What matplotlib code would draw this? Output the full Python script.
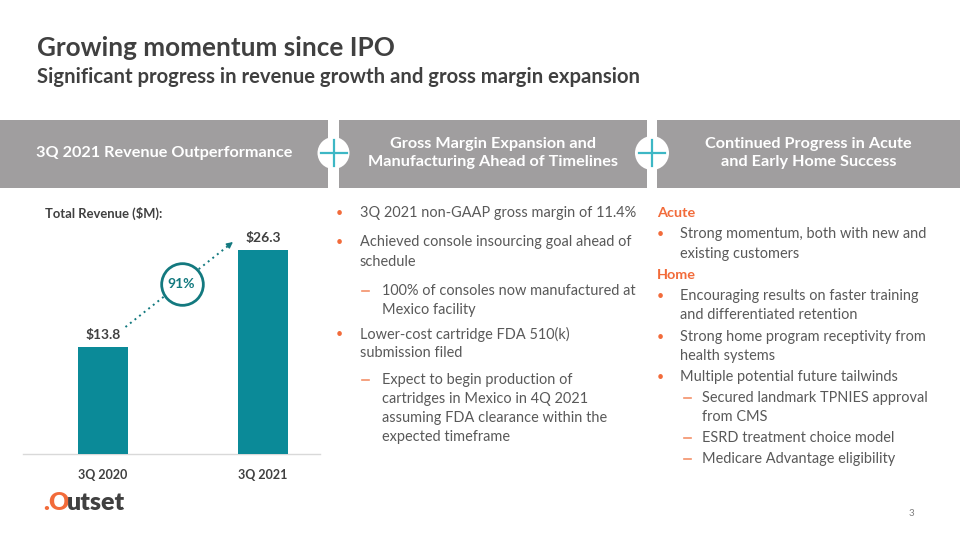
import matplotlib
matplotlib.use("Agg")
import matplotlib.pyplot as plt
from matplotlib.patches import Rectangle, Circle

plt.rcParams['font.family'] = ['Lato', 'DejaVu Sans']

# data
quarters = ['3Q 2020', '3Q 2021']
revenue = [13.8, 26.3]
growth_label = '91%'

headers = ['3Q 2021 Revenue Outperformance',
           'Gross Margin Expansion and\nManufacturing Ahead of Timelines',
           'Continued Progress in Acute\nand Early Home Success']

# (kind, text, y) kind: b = bullet, d = dash, c = continuation of bullet, s = continuation of dash
middle_lines = [
    ('b', '3Q 2021 non-GAAP gross margin of 11.4%', 213),
    ('b', 'Achieved console insourcing goal ahead of', 242),
    ('c', 'schedule', 262),
    ('d', '100% of consoles now manufactured at', 291),
    ('s', 'Mexico facility', 310),
    ('b', 'Lower-cost cartridge FDA 510(k)', 334),
    ('c', 'submission filed', 353),
    ('d', 'Expect to begin production of', 380),
    ('s', 'cartridges in Mexico in 4Q 2021', 399),
    ('s', 'assuming FDA clearance within the', 418),
    ('s', 'expected timeframe', 437),
]
right_lines = [
    ('h', 'Acute', 213),
    ('b', 'Strong momentum, both with new and', 234),
    ('c', 'existing customers', 254),
    ('h', 'Home', 275),
    ('b', 'Encouraging results on faster training', 296),
    ('c', 'and differentiated retention', 315),
    ('b', 'Strong home program receptivity from', 337),
    ('c', 'health systems', 356),
    ('b', 'Multiple potential future tailwinds', 377),
    ('d', 'Secured landmark TPNIES approval', 398),
    ('s', 'from CMS', 417),
    ('d', 'ESRD treatment choice model', 438),
    ('d', 'Medicare Advantage eligibility', 459),
]

TEAL = '#0B8A98'
TEAL_DARK = '#13797F'
ORANGE = '#F26B3A'
GRAY_BOX = '#A09E9F'
TXT = '#404040'
BODY = '#595959'
PLUS = '#3DB7C5'

fig = plt.figure(figsize=(9.6, 5.4), dpi=100)
ax = fig.add_axes([0, 0, 1, 1])
ax.set_xlim(0, 960)
ax.set_ylim(540, 0)
ax.axis('off')

# titles
ax.text(37, 48, 'Growing momentum since IPO', fontsize=18.8, fontweight='bold',
        color=TXT, va='center')
ax.text(37, 77, 'Significant progress in revenue growth and gross margin expansion',
        fontsize=14.6, fontweight='bold', color=TXT, va='center')

# header boxes
boxes = [(0, 328), (339, 647), (657, 960)]
for (x0, x1), lab in zip(boxes, headers):
    ax.add_patch(Rectangle((x0, 120), x1 - x0, 68, color=GRAY_BOX, lw=0))
    ax.text((x0 + x1) / 2, 153, lab, color='white', fontsize=11.7, fontweight='bold',
            ha='center', va='center', linespacing=1.3)

for cx, r in [(333.5, 16), (652, 17)]:
    ax.add_patch(Circle((cx, 153), r, color='white', lw=0, zorder=3))
    ax.plot([cx - 13, cx + 13], [153, 153], color=PLUS, lw=1.6, zorder=4)
    ax.plot([cx, cx], [140, 166], color=PLUS, lw=1.6, zorder=4)


def draw_lines(lines, xb, xt, xd, xs):
    for kind, txt, y in lines:
        if kind == 'h':
            ax.text(xb, y, txt, color=ORANGE, fontsize=10.4, fontweight='bold', va='center')
            continue
        if kind == 'b':
            ax.text(xb, y, '\u2022', color=ORANGE, fontsize=9, va='center')
        if kind == 'd':
            ax.plot([xd, xd + 7], [y, y], color='#F4916A', lw=1.2)
        x = xt if kind in ('b', 'c') else xs
        ax.text(x, y, txt, color=BODY, fontsize=10.45, va='center')


draw_lines(middle_lines, 336, 360, 362, 382)
draw_lines(right_lines, 657, 680, 684, 702)

# total revenue label
ax.text(45, 213, 'Total Revenue ($M):', fontsize=9.4, fontweight='bold', color=TXT, va='center')

# baseline
ax.plot([23, 320], [454, 454], color='#D9D9D9', lw=1)

# page number
ax.text(911, 513, '3', fontsize=7, color='#7F7F7F', ha='center', va='center')

# logo
fig.canvas.draw()
rend = fig.canvas.get_renderer()
x = 43
for piece, col in [('.', ORANGE), ('O', ORANGE), ('utset', '#404040')]:
    t = ax.text(x, 503, piece, fontsize=18, fontweight='heavy', color=col, va='center')
    bb = t.get_window_extent(renderer=rend)
    x += bb.width * 960 / fig.bbox.width - 1

# bar chart
cax = fig.add_axes([23 / 960, (540 - 454) / 540, 297 / 960, (454 - 200) / 540])
cax.patch.set_alpha(0)
pos = list(range(len(quarters)))
cax.bar(pos, revenue, width=0.3125, color=TEAL)
cax.set_xlim(-0.5, 1.355)
cax.set_ylim(0, 32.8)
for p, v in zip(pos, revenue):
    cax.text(p, v + 1.55, f'${v}', ha='center', va='center', fontsize=10,
             fontweight='bold', color=TXT)
for s in cax.spines.values():
    s.set_visible(False)
cax.set_yticks([])
cax.set_xticks(pos)
cax.set_xticklabels(quarters, fontsize=9, fontweight='bold', color=TXT)
cax.tick_params(axis='x', length=0, pad=11)

# growth arrow
x0, y0 = 0.14, 16.4
x1, y1 = 0.825, 27.6
cax.plot([x0, x1 - 0.03], [y0, y1 - 0.5], color=TEAL_DARK, lw=1.4, ls=(0, (1, 2)))
cax.annotate('', xy=(x1, y1), xytext=(x1 - 0.04, y1 - 0.65),
             arrowprops=dict(arrowstyle='-|>', color=TEAL_DARK, lw=1, mutation_scale=9))
cax.plot(0.49, 21.9, 'o', ms=30, mfc='white', mec=TEAL_DARK, mew=2)
cax.text(0.49, 21.9, growth_label, ha='center', va='center', fontsize=10,
         fontweight='bold', color=TEAL_DARK)

fig.savefig('out.png', dpi=100)
